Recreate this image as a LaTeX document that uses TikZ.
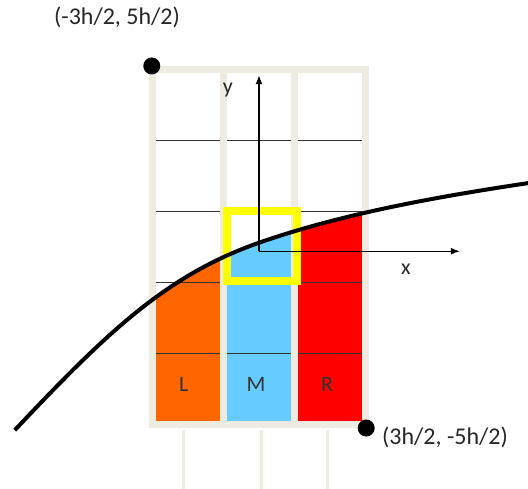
\documentclass[tikz,border=0pt]{standalone}
\usepackage{fontspec}
\setmainfont{Carlito}
\usepackage{tikz}
\usetikzlibrary{positioning,arrows.meta}
\definecolor{GridTan}{HTML}{EEECE1}
\definecolor{LeftOrange}{HTML}{FF6600}
\definecolor{MidBlue}{HTML}{66CCFF}
\definecolor{RightRed}{HTML}{FF0000}
\definecolor{BoxYellow}{HTML}{FFFF00}

\begin{document}
\begin{tikzpicture}[x=35.5pt, y=35.5pt,
    tanline/.style={GridTan, line width=3.5pt},
    rowline/.style={black!80, line width=0.6pt},
    axis/.style={-{Latex[length=4.5pt,width=3.5pt]}, line width=0.7pt},
    corner/.style={circle, fill=black, inner sep=0pt, minimum size=8.5pt},
    cornerlbl/.style={font=\fontsize{12}{14}\selectfont, text=black!85},
    collbl/.style={font=\fontsize{11}{13}\selectfont, text=black!80},
    axlbl/.style={font=\fontsize{11}{13}\selectfont, text=black!85},
]
\useasboundingbox (-3.648,-3.408) rectangle (3.789,3.479);

% cells below the curve
\begin{scope}
  \clip (-3.44,-2.58) .. controls (-2.14,-1.20) and (-1.3,-0.395) .. (0,0.06)
    .. controls (1.2,0.48) and (2.59,0.72) .. (3.79,0.90)
    -- (3.79,-2.6) -- (-3.44,-2.6) -- cycle;
  \fill[LeftOrange] (-1.5,-2.5) rectangle (-0.5,2.5);
  \fill[MidBlue] (-0.5,-2.5) rectangle (0.5,2.5);
  \fill[RightRed] (0.5,-2.5) rectangle (1.5,2.5);
\end{scope}

% grid
\foreach \y in {1.5,0.5,-0.5,-1.5}
  \draw[rowline] (-1.5,\y) -- (1.5,\y);
\draw[tanline] (-1.5,-2.5) rectangle (1.5,2.5);
\foreach \x in {-0.5,0.5}
  \draw[tanline] (\x,-2.5) -- (\x,2.5);
\foreach \x in {-1.06,0.03,0.97}
  \draw[GridTan, line width=1.6pt] (\x,-2.58) -- (\x,-3.45);

% stencil cell
\draw[BoxYellow, line width=4pt] (-0.45,-0.48) rectangle (0.53,0.51);

% curve
\draw[line width=2pt] (-3.44,-2.58) .. controls (-2.14,-1.20) and (-1.3,-0.395) .. (0,0.06)
  .. controls (1.2,0.48) and (2.59,0.72) .. (3.79,0.90);

% axes
\coordinate (O) at (0,-0.06);
\coordinate (xend) at (2.83,-0.06);
\coordinate (yend) at (0,2.42);
\draw[axis] (O) -- (xend);
\draw[axis] (O) -- (yend);
\node[axlbl] (xlbl) at (2.07,-0.31) {x};
\node[axlbl] (ylbl) at (-0.44,2.21) {y};

% column labels
\node[collbl] (L) at (-1.06,-1.94) {L};
\node[collbl] (M) at (-0.04,-1.94) {M};
\node[collbl] (R) at (0.96,-1.94) {R};

% corners
\node[corner] (tl) at (-1.51,2.55) {};
\node[corner] (br) at (1.51,-2.55) {};
\node[cornerlbl] (tllbl) at (-2.0,3.24) {(-3h/2, 5h/2)};
\node[cornerlbl, right=0pt of br, yshift=-4.5pt] (brlbl) {(3h/2, -5h/2)};
\end{tikzpicture}
\end{document}
